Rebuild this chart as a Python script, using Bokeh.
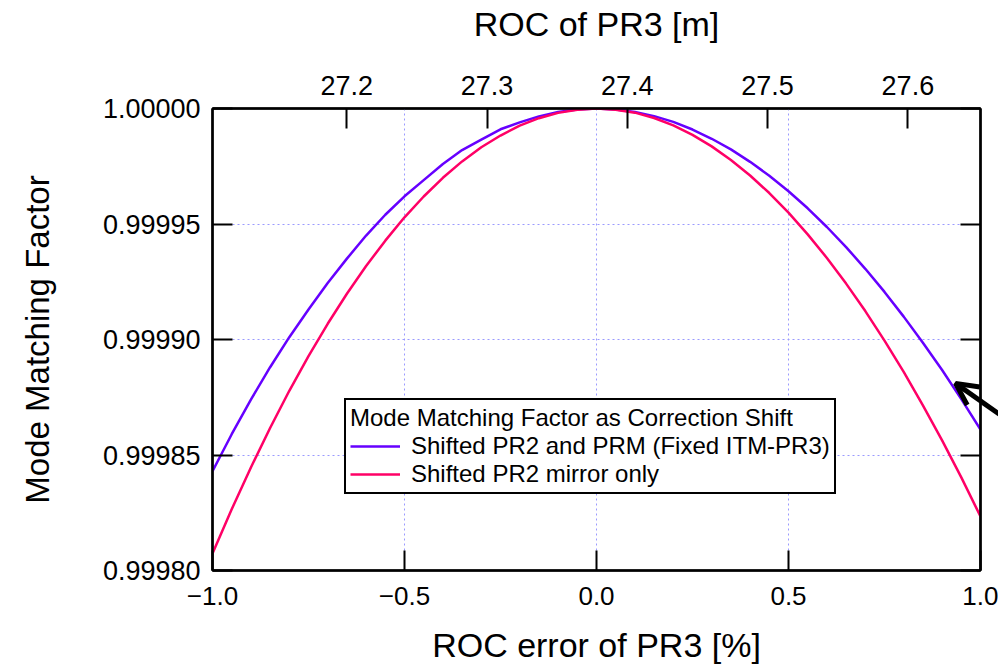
from bokeh.plotting import figure
from bokeh.layouts import row
from bokeh.models import (LinearAxis, Range1d, FixedTicker, CustomJSTickFormatter,
                          Arrow, OpenHead)
from bokeh.embed import file_html
from bokeh.resources import INLINE

# ---- data ----
x_pct = [-1.00, -0.95, -0.90, -0.85, -0.80, -0.75, -0.70, -0.65, -0.60, -0.55,
         -0.50, -0.45, -0.40, -0.35, -0.30, -0.25, -0.20, -0.15, -0.10, -0.05,
         0.00, 0.05, 0.10, 0.15, 0.20, 0.25, 0.30, 0.35, 0.40, 0.45,
         0.50, 0.55, 0.60, 0.65, 0.70, 0.75, 0.80, 0.85, 0.90, 0.95, 1.00]
mmf_pr2_prm = [0.999843, 0.999859, 0.999874, 0.999888, 0.999901, 0.999913,
               0.9999245, 0.999935, 0.999945, 0.999954, 0.999962, 0.999969,
               0.999976, 0.999982, 0.9999865, 0.999991, 0.999994, 0.9999966,
               0.9999985, 0.9999996, 1.0,
               0.9999996, 0.9999985, 0.9999967, 0.9999942, 0.9999909,
               0.9999869, 0.9999823, 0.9999769, 0.9999709, 0.9999642,
               0.9999568, 0.9999487, 0.9999400, 0.9999306, 0.9999206,
               0.9999099, 0.9998986, 0.9998868, 0.9998742, 0.9998610]
mmf_pr2_only = [0.9998074, 0.9998265, 0.9998446, 0.9998617, 0.9998778, 0.9998928,
                0.9999068, 0.9999198, 0.9999318, 0.9999428, 0.9999529, 0.9999619,
                0.9999700, 0.9999771, 0.9999832, 0.9999883, 0.9999926, 0.9999958,
                0.9999981, 0.9999995, 1.0,
                0.9999995, 0.9999982, 0.9999959, 0.9999927, 0.9999886,
                0.9999836, 0.9999777, 0.9999710, 0.9999634, 0.9999549,
                0.9999455, 0.9999353, 0.9999242, 0.9999123, 0.9998995,
                0.9998860, 0.9998715, 0.9998563, 0.9998403, 0.9998234]
x_ticks = [-1.0, -0.5, 0.0, 0.5, 1.0]
y_ticks = [0.99980, 0.99985, 0.99990, 0.99995, 1.00000]
roc_ticks = [27.2, 27.3, 27.4, 27.5, 27.6]
roc_nominal = 27.378
series_labels = ["Shifted PR2 and PRM (Fixed ITM-PR3)", "Shifted PR2 mirror only"]
legend_title = "Mode Matching Factor as Correction Shift"
x_title = "ROC error of PR3 [%]"
x2_title = "ROC of PR3 [m]"
y_title = "Mode Matching Factor"
arrow_start = (1.078, 0.9998643)
arrow_end = (0.935, 0.999881)

FONT = "Liberation Sans"
GRID = "#9a9aff"

W, H = 998, 672
LEFT, RIGHT, TOP, BOTTOM = 212, 18, 108, 102
BOX_W = W - LEFT - RIGHT
x_lo, x_hi = x_ticks[0], x_ticks[-1]
y_lo, y_hi = y_ticks[0], y_ticks[-1]
per_px = (x_hi - x_lo) / BOX_W


def roc(x):
    return roc_nominal * (1 + x / 100)


p = figure(width=W, height=H,
           x_range=Range1d(x_lo, x_hi), y_range=Range1d(y_lo, y_hi),
           output_backend="svg", toolbar_location=None,
           min_border_left=LEFT, min_border_right=RIGHT,
           min_border_top=TOP, min_border_bottom=BOTTOM,
           background_fill_color="white", border_fill_color="white",
           outline_line_color="black", outline_line_width=2)

p.extra_x_ranges = {"roc": Range1d(roc(x_lo), roc(x_hi))}


def style_axis(ax, ticks, label_size="27px"):
    ax.ticker = FixedTicker(ticks=ticks)
    ax.major_tick_in = 20
    ax.major_tick_out = 0
    ax.major_tick_line_width = 2
    ax.major_tick_line_color = "black"
    ax.minor_tick_line_color = None
    ax.axis_line_width = 2.5
    ax.axis_line_color = "black"
    ax.major_label_text_font = FONT
    ax.major_label_text_font_size = label_size
    ax.major_label_text_color = "black"
    ax.axis_label_text_font = FONT
    ax.axis_label_text_font_style = "normal"
    ax.axis_label_text_color = "black"


xb = p.xaxis[0]
style_axis(xb, x_ticks, "26px")
xb.formatter = CustomJSTickFormatter(
    code="return (tick < 0 ? '\u2212' : '') + Math.abs(tick).toFixed(1);")
xb.major_label_standoff = 16
xb.axis_label = x_title
xb.axis_label_text_font_size = "34px"
xb.axis_label_standoff = 18

yl = p.yaxis[0]
style_axis(yl, y_ticks)
yl.formatter = CustomJSTickFormatter(code="return tick.toFixed(5);")
yl.major_label_standoff = 12
yl.axis_label = y_title
yl.axis_label_text_font_size = "33px"
yl.axis_label_standoff = 44

xt = LinearAxis(x_range_name="roc")
style_axis(xt, roc_ticks, "27px")
xt.formatter = CustomJSTickFormatter(code="return tick.toFixed(1);")
xt.major_label_standoff = 14
xt.axis_label = x2_title
xt.axis_label_text_font_size = "34px"
xt.axis_label_standoff = 30
p.add_layout(xt, "above")

yr = LinearAxis()
style_axis(yr, y_ticks, "1px")
yr.formatter = CustomJSTickFormatter(code="return '';")
yr.major_label_standoff = 0
p.add_layout(yr, "right")

p.xgrid.ticker = FixedTicker(ticks=x_ticks)
p.ygrid.ticker = FixedTicker(ticks=y_ticks)
for g in (p.xgrid, p.ygrid):
    g.grid_line_color = GRID
    g.grid_line_dash = "2 3"
    g.grid_line_width = 1

p.line(x_pct, mmf_pr2_prm, line_color="#6600ff", line_width=2.5,
       legend_label=series_labels[0])
p.line(x_pct, mmf_pr2_only, line_color="#ff0066", line_width=2.5,
       legend_label=series_labels[1])

leg = p.legend[0]
leg.title = legend_title
leg.title_text_font = FONT
leg.title_text_font_size = "24px"
leg.title_text_font_style = "normal"
leg.title_text_color = "black"
leg.title_standoff = 0
leg.label_text_font = FONT
leg.label_text_font_size = "24px"
leg.label_text_color = "black"
leg.glyph_width = 50
leg.glyph_height = 22
leg.label_height = 22
leg.label_standoff = 11
leg.spacing = 0
leg.padding = 4
leg.margin = 0
leg.border_line_color = "black"
leg.border_line_alpha = 1.0
leg.border_line_width = 2.5
leg.background_fill_color = "white"
leg.background_fill_alpha = 1.0
leg.location = (132, 76)

p.add_layout(Arrow(end=OpenHead(size=22, line_width=5, line_color="black"),
                   x_start=arrow_start[0], y_start=arrow_start[1],
                   x_end=arrow_end[0], y_end=arrow_end[1],
                   line_width=5, line_color="black"))

# transparent strip laid over the right margin: carries the arrow's tail
s = figure(width=RIGHT, height=H,
           x_range=Range1d(x_hi, x_hi + RIGHT * per_px),
           y_range=Range1d(y_lo, y_hi),
           output_backend="svg", toolbar_location=None,
           x_axis_type=None, y_axis_type=None,
           min_border_left=0, min_border_right=0,
           min_border_top=TOP, min_border_bottom=BOTTOM,
           background_fill_alpha=0, border_fill_alpha=0,
           outline_line_color=None, margin=(0, 0, 0, -RIGHT))
s.grid.visible = False
s.line([arrow_start[0], arrow_end[0]], [arrow_start[1], arrow_end[1]],
       line_color="black", line_width=5)

layout = row(p, s)
open("out.html", "w").write(file_html(layout, INLINE))
